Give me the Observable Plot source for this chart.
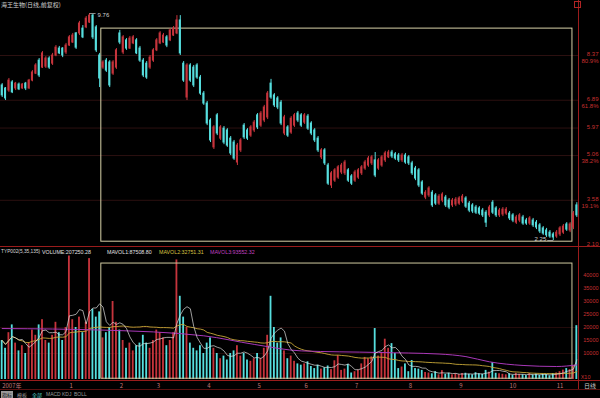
<!DOCTYPE html>
<html><head><meta charset="utf-8">
<script src="https://cdn.jsdelivr.net/npm/d3@7"></script>
<script src="https://cdn.jsdelivr.net/npm/@observablehq/plot@0.6"></script>
<style>
html,body{margin:0;padding:0;background:#000;}
#wrap{position:relative;width:600px;height:398px;overflow:hidden;background:#000;font-family:"Liberation Sans",Arial,"Noto Sans CJK SC",sans-serif;}
.abs{position:absolute;white-space:nowrap;line-height:1;}
.ln{position:absolute;background:#9a1c1c;}
.cjk{font-family:"Noto Sans CJK SC",sans-serif;}
.tab{position:absolute;top:391px;font-size:5px;line-height:7px;height:7px;color:#9a9a9a;}
.lab{position:absolute;top:250px;font-size:5.3px;line-height:1;white-space:nowrap;}
</style></head><body>
<div id="wrap">
  <div id="price" class="abs" style="left:0;top:0"></div>
  <div id="vol" class="abs" style="left:0;top:247px"></div>
  <div class="ln" style="left:578px;top:0;width:1px;height:390px"></div>
  <div class="ln" style="left:0;top:246px;width:600px;height:1px"></div>
  <div class="ln" style="left:0;top:380px;width:600px;height:1px"></div>
  <div class="ln" style="left:0;top:389px;width:600px;height:1px;background:#5a1010"></div>
  <div class="abs" style="left:574px;top:1px;width:5px;height:5px;border:1px solid #b02424"></div>
  <div class="abs cjk" style="left:1px;top:2px;font-size:6px;color:#d0d0d0">海王生物(日线,前复权)</div>
  <div class="lab" style="left:1px;color:#d8d8d8;font-size:4.8px">TYP002(5,35,135)</div>
  <div class="lab" style="left:42px;color:#e0e0e0">VOLUME:207250.28</div>
  <div class="lab" style="left:107px;color:#e0e0e0">MAVOL1:87508.80</div>
  <div class="lab" style="left:159px;color:#d8c040">MAVOL2:32751.31</div>
  <div class="lab" style="left:210px;color:#c040c0">MAVOL3:93552.32</div>
  <div class="abs cjk" style="left:584px;top:383px;font-size:6px;color:#c8c8c8">日线</div>
  <div class="tab cjk" style="left:1px;width:12px;background:#9a9a9a;color:#111;text-align:center">指标</div>
  <div class="tab cjk" style="left:17px">模板</div>
  <div class="tab cjk" style="left:32px;color:#50c8c8">全部</div>
  <div class="tab" style="left:46px">MACD</div>
  <div class="tab" style="left:62px">KDJ</div>
  <div class="tab" style="left:74px">BOLL</div>
</div>
<script>
// ---- daily candles (price, yuan) ----
const open = [7.38,7.28,7.21,7.48,7.28,7.41,7.28,7.44,7.28,7.54,
7.77,8.20,7.97,8.00,8.27,8.10,8.37,8.60,8.60,8.47,
8.70,8.80,9.10,9.10,9.26,9.30,9.46,9.69,9.30,8.37,
7.97,8.20,8.14,7.77,7.97,9.10,8.47,8.87,8.60,8.77,
8.87,8.60,8.20,8.10,7.97,8.20,8.54,8.77,8.80,8.97,
8.87,9.03,9.10,9.53,8.10,6.98,8.04,7.97,8.04,7.64,
7.11,6.78,6.22,5.33,6.39,5.62,5.95,5.89,5.62,5.49,
4.83,5.23,6.05,5.89,5.72,5.89,6.39,6.05,6.22,6.32,
7.44,7.05,6.95,6.81,5.79,5.99,5.82,6.05,6.45,6.39,
6.15,6.35,6.12,5.89,5.62,5.00,5.23,4.73,4.07,4.23,
4.33,4.50,4.47,4.57,4.37,4.23,4.33,4.47,4.63,4.73,
4.80,4.90,4.63,4.73,4.90,5.00,5.16,5.10,5.06,4.90,
5.06,5.00,4.80,4.63,4.57,4.17,3.67,3.74,3.83,3.74,
3.47,3.57,3.67,3.57,3.41,3.44,3.47,3.54,3.64,3.47,
3.41,3.34,3.31,3.24,3.17,3.08,3.50,3.31,3.08,3.11,
3.14,3.14,3.08,2.84,2.91,3.01,2.91,2.81,2.91,2.84,
2.75,2.65,2.58,2.51,2.45,2.38,2.45,2.51,2.78,2.58,
2.68,3.41];
const close = [7.05,6.95,7.54,7.15,7.44,7.25,7.41,7.28,7.54,7.81,
8.04,7.71,8.44,8.27,7.97,8.37,8.63,8.44,8.37,8.70,
8.97,9.03,8.63,9.43,8.97,9.59,9.69,8.97,8.54,7.61,
8.14,7.87,7.38,8.14,8.54,8.80,8.97,8.60,8.93,8.97,
8.44,8.20,7.71,7.64,8.30,8.54,8.87,9.10,9.03,8.70,
9.20,9.26,9.53,8.44,7.54,8.04,7.54,7.38,7.64,7.11,
6.78,6.12,5.56,5.99,5.79,5.99,5.49,5.39,5.13,4.96,
5.39,5.56,5.66,5.62,5.99,6.15,5.99,6.45,6.65,7.11,
6.98,6.72,6.65,6.12,6.32,5.72,6.28,6.39,6.22,6.05,
6.39,5.95,5.79,5.56,5.23,5.23,4.80,4.13,4.47,4.57,
4.67,4.73,4.83,4.23,4.13,4.50,4.57,4.67,4.83,4.96,
5.00,4.40,4.90,5.00,5.13,5.16,5.03,4.96,4.90,5.06,
4.83,4.80,4.47,4.30,4.07,3.80,3.83,3.97,3.41,3.47,
3.70,3.77,3.41,3.34,3.57,3.60,3.64,3.70,3.37,3.24,
3.21,3.17,3.14,3.08,2.84,3.34,3.17,3.08,3.24,3.27,
3.27,2.98,2.91,3.01,3.08,2.81,2.81,2.98,2.75,2.68,
2.55,2.48,2.42,2.38,2.35,2.51,2.65,2.71,2.61,2.78,
3.14,3.08];
const high = [7.44,7.31,7.61,7.54,7.48,7.46,7.44,7.48,7.58,7.87,
8.10,8.27,8.50,8.33,8.33,8.44,8.70,8.67,8.63,8.77,
9.03,9.10,9.13,9.50,9.36,9.66,9.76,9.73,9.36,8.44,
8.20,8.27,8.20,8.20,8.60,9.20,9.03,8.93,9.00,9.03,
8.93,8.67,8.27,8.17,8.37,8.60,8.93,9.16,9.10,9.03,
9.26,9.33,9.69,9.69,8.17,8.10,8.10,8.04,8.10,7.71,
7.18,6.85,6.28,6.05,6.45,6.05,6.02,5.95,5.69,5.56,
5.46,5.62,6.12,5.95,6.05,6.22,6.45,6.52,6.72,7.18,
7.58,7.11,7.01,6.88,6.39,6.05,6.35,6.45,6.52,6.45,
6.45,6.42,6.18,5.95,5.69,5.29,5.29,4.80,4.53,4.63,
4.73,4.80,4.90,4.63,4.43,4.57,4.63,4.73,4.90,5.03,
5.06,5.16,4.96,5.06,5.20,5.23,5.23,5.16,5.13,5.13,
5.13,5.06,4.87,4.70,4.63,4.23,3.90,4.03,3.90,3.80,
3.77,3.83,3.74,3.64,3.64,3.67,3.70,3.77,3.70,3.54,
3.47,3.41,3.37,3.31,3.24,3.41,3.57,3.37,3.31,3.34,
3.34,3.21,3.14,3.08,3.14,3.08,2.98,3.04,2.98,2.91,
2.81,2.71,2.65,2.58,2.51,2.58,2.71,2.78,2.84,2.84,
3.21,3.50];
const low = [6.98,6.88,7.15,7.11,7.21,7.21,7.25,7.21,7.25,7.50,
7.74,7.64,7.94,7.94,7.91,8.04,8.33,8.40,8.30,8.40,
8.67,8.77,8.57,9.03,8.93,9.26,9.43,8.90,8.47,7.31,
7.91,7.81,7.31,7.71,7.91,8.73,8.40,8.54,8.57,8.73,
8.40,8.14,7.64,7.58,7.91,8.14,8.50,8.73,8.77,8.63,
8.83,9.00,9.06,8.37,7.48,6.88,7.48,7.31,7.58,7.05,
6.72,6.05,5.49,5.26,5.72,5.56,5.42,5.33,5.06,4.90,
4.73,5.16,5.59,5.56,5.66,5.82,5.92,5.99,6.15,6.25,
6.92,6.65,6.58,6.05,5.72,5.66,5.76,5.99,6.15,5.99,
6.09,5.89,5.72,5.49,5.16,4.93,4.73,4.07,3.97,4.17,
4.27,4.43,4.40,4.17,4.07,4.17,4.27,4.40,4.57,4.67,
4.73,4.33,4.57,4.67,4.83,4.96,4.96,4.90,4.83,4.83,
4.77,4.73,4.40,4.23,4.00,3.74,3.60,3.67,3.34,3.41,
3.41,3.50,3.34,3.27,3.34,3.37,3.41,3.47,3.31,3.17,
3.14,3.11,3.08,3.01,2.68,3.01,3.11,3.01,3.01,3.04,
3.08,2.91,2.84,2.78,2.84,2.75,2.75,2.75,2.68,2.61,
2.48,2.42,2.35,2.32,2.25,2.32,2.38,2.45,2.55,2.51,
2.61,3.01];
// ---- daily volume (x10 lots) ----
const vol = [15000,12000,18000,21000,14000,11000,13000,10000,14000,19000,
17000,21000,23000,15000,14000,17000,22000,18000,15000,20000,
47500,23000,20000,24000,18000,22000,46500,27000,24000,26000,
16000,18000,20000,30000,22000,19000,15000,12000,14000,11000,
13000,14000,17000,14000,12000,15000,19000,18000,16000,13000,
15000,18000,46000,32000,24000,20000,14000,12000,11000,13000,
10000,14000,16000,12000,10000,8000,9000,7500,10000,11000,
13000,9000,10000,7500,7000,8000,10000,8000,12000,17000,
32000,20000,14000,16000,11000,8000,9000,7000,6000,5500,
6000,6800,5000,4200,5500,4000,4500,5200,3800,7200,
9200,3500,4000,5800,2500,3000,3600,6000,8500,8000,
8700,19600,9000,10400,15500,12000,13800,10000,4200,4800,
6000,3000,7300,4200,4000,3500,2700,2500,2200,3000,
1800,3400,2000,2400,1800,2200,1900,2300,2400,2000,
1800,2600,2200,2000,3500,2800,6500,2400,2200,2000,
1800,2200,1600,2400,2000,1800,1500,2300,1700,2100,
1600,2000,1900,1400,2300,2500,3000,3600,4200,3800,
5400,20700];
// MAVOL3 (long average) at a few days
const magIdx = [0,30,60,75,89,112,130,138,145,155,165,171];
const magVal = [19600,19000,16800,13500,11000,10400,9800,8800,6800,5400,5000,5600];
// right-axis labels
const fibLevels = [8.37,6.89,5.97,5.06,3.58];
const priceLabelVals = [8.37,6.89,5.97,5.06,3.58,2.10];
const priceLabelTxt = ["8.37","6.89","5.97","5.06","3.58","2.10"];
const pctLabelTxt = ["80.9%","61.8%","","38.2%","19.1%",""];
const volTicks = [40000,35000,30000,25000,20000,15000,10000];
const volGrid = [10000,20000];
// month labels (day index where each month begins)
const monthIdx = [0,20,35,46,61,76,90,105,121,136,151,165];
const monthLabels = ["2007年","1","2","3","4","5","6","7","8","9","10","11"];
// drawn boxes (day index, price / volume)
const boxDays = [29.5,169.7];
const boxPrice = [9.26,2.21];
const boxVol = [44600,300];

const upColor = "#c6343c", downColor = "#56dede", axisRed = "#c83030";
const N = open.length;
const idx = d3.range(N);
const col = i => close[i] >= open[i] ? upColor : downColor;
const peak = d3.maxIndex(high), bottom = d3.minIndex(low);
const baseStyle = {background:"#000", overflow:"visible", fontFamily:"Liberation Sans, Arial, sans-serif", fontSize:"6px"};

const price = Plot.plot({
  width: 600, height: 247,
  marginLeft: 0, marginRight: 22, marginTop: 0, marginBottom: 0,
  style: baseStyle,
  x: {domain: [-0.5, N - 0.5], axis: null},
  y: {domain: [2.018, 10.19], axis: null},
  color: {type: "identity"},
  marks: [
    Plot.ruleY(fibLevels, {stroke: "#2c1010", strokeWidth: 1}),
    Plot.rect([0], {x1: () => boxDays[0], x2: () => boxDays[1], y1: () => boxPrice[0], y2: () => boxPrice[1], stroke: "#d8d2a8", fill: "none", strokeWidth: 1}),
    Plot.ruleX(idx, {x: d => d, y1: i => low[i], y2: i => high[i], stroke: col, strokeWidth: 1}),
    Plot.rect(idx, {x1: i => i - 0.3, x2: i => i + 0.3, y1: i => Math.min(open[i], close[i]), y2: i => Math.max(open[i], close[i]), fill: col, insetTop: -0.5, insetBottom: -0.5}),
    Plot.link([peak], {x1: d => d, y1: d => high[d], x2: d => d + 1.8, y2: d => high[d], stroke: "#c8c8c8", strokeWidth: 0.7}),
    Plot.text([peak], {x: d => d, y: d => high[d], text: d => high[d].toFixed(2), dx: 8, dy: 2, textAnchor: "start", fill: "#d0d0d0", fontSize: 6}),
    Plot.link([bottom], {x1: d => d - 1.8, y1: d => low[d], x2: d => d, y2: d => low[d], stroke: "#c8c8c8", strokeWidth: 0.7}),
    Plot.text([bottom], {x: d => d, y: d => low[d], text: d => low[d].toFixed(2), dx: -7, dy: -1, textAnchor: "end", fill: "#d0d0d0", fontSize: 6}),
    Plot.text(priceLabelVals, {y: d => d, text: (d, i) => priceLabelTxt[i], frameAnchor: "right", dx: 20, dy: -1, textAnchor: "end", fill: axisRed, fontSize: 6}),
    Plot.text(priceLabelVals, {y: d => d, text: (d, i) => pctLabelTxt[i], frameAnchor: "right", dx: 20, dy: 6, textAnchor: "end", fill: axisRed, fontSize: 6})
  ]
});
document.getElementById("price").append(price);

const volume = Plot.plot({
  width: 600, height: 143,
  marginLeft: 0, marginRight: 22, marginTop: 0, marginBottom: 11,
  style: baseStyle,
  x: {domain: [-0.5, N - 0.5], axis: null},
  y: {domain: [0, 50770], axis: null},
  color: {type: "identity"},
  marks: [
    Plot.ruleY(volGrid, {stroke: "#220a0a"}),
    Plot.rect(idx, {x1: i => i - 0.27, x2: i => i + 0.27, y1: 0, y2: i => vol[i], fill: col}),
    Plot.rect([0], {x1: () => boxDays[0], x2: () => boxDays[1], y1: () => boxVol[0], y2: () => boxVol[1], stroke: "#d0caa0", fill: "none", strokeWidth: 1}),
    Plot.lineY(idx, Plot.windowY({k: 35, anchor: "end"}, {x: d => d, y: i => vol[i], stroke: "#c8a838", strokeWidth: 0.9})),
    Plot.line(magIdx, {x: d => d, y: (d, i) => magVal[i], stroke: "#a838b8", strokeWidth: 1, curve: "monotone-x"}),
    Plot.lineY(idx, Plot.windowY({k: 5, anchor: "end"}, {x: d => d, y: i => vol[i], stroke: "#e0e0e0", strokeWidth: 0.7})),
    Plot.text(volTicks, {y: d => d, text: d => String(d), frameAnchor: "right", dx: 20, textAnchor: "end", fill: axisRed, fontSize: 5.5}),
    Plot.text([0], {y: d => d, text: () => "X10", frameAnchor: "right", dx: 12, dy: -2, textAnchor: "end", fill: axisRed, fontSize: 5.5}),
    Plot.text(monthIdx, {x: d => d, text: (d, i) => monthLabels[i], frameAnchor: "bottom", dy: 8, textAnchor: "start", fill: "#c07878", fontSize: 6, fontFamily: "Noto Sans CJK SC, sans-serif"})
  ]
});
document.getElementById("vol").append(volume);
</script>
</body></html>
